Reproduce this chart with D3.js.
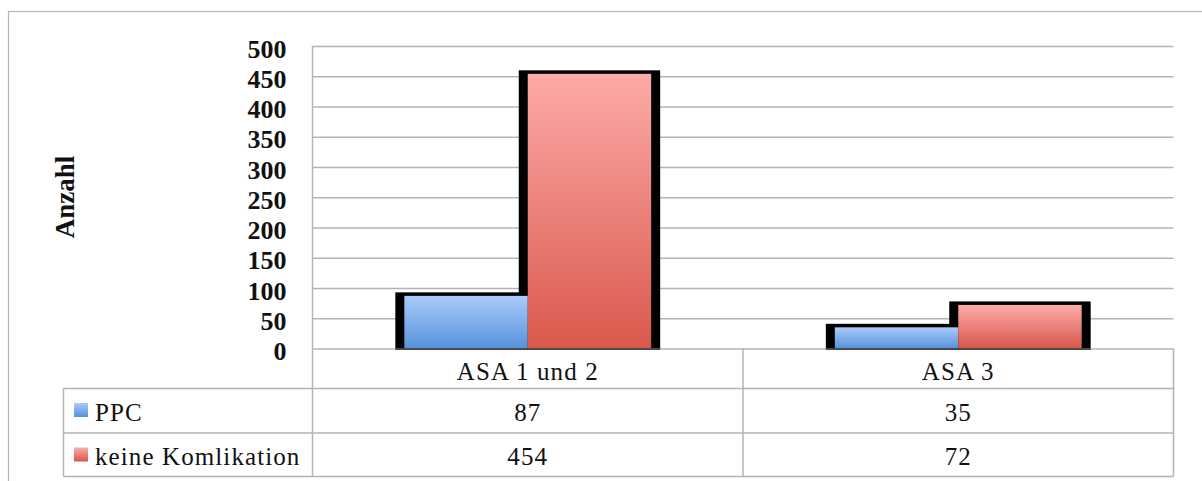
<!DOCTYPE html>
<html>
<head>
<meta charset="utf-8">
<script src="https://cdn.jsdelivr.net/npm/d3@7"></script>
<style>
  html, body { margin: 0; padding: 0; background: #fff; }
  svg { display: block; }
  text { font-family: "Liberation Serif", "Times New Roman", serif; fill: #111; }
  .cell { font-size: 25px; letter-spacing: 1.1px; }
</style>
</head>
<body>
<svg id="chart" width="1202" height="481"></svg>
<script>
// Chart data
const categories = ["ASA 1 und 2", "ASA 3"];
const seriesNames = ["PPC", "keine Komlikation"];
const ppcValues = [87, 35];
const keineValues = [454, 72];
const yTickValues = [0, 50, 100, 150, 200, 250, 300, 350, 400, 450, 500];
const axisTitle = "Anzahl";

const seriesValues = [ppcValues, keineValues];
const seriesGradients = [
  { id: "gradBlue", top: "#aacbfa", bottom: "#5592da" },
  { id: "gradRed", top: "#fdaba8", bottom: "#d9584c" }
];

const svg = d3.select("#chart");
const W = 1202, H = 481;

// Plot geometry
const plotLeft = 312.5, plotRight = 1173.5, plotTop = 46, plotBottom = 348.5;
const legendLeft = 63.5;
const rowBounds = [348.5, 388.5, 433, 476.5]; // header row, series rows
const gridColor = "#b3b3b3";

const defs = svg.append("defs");
seriesGradients.forEach(g => {
  const lg = defs.append("linearGradient")
    .attr("id", g.id).attr("x1", 0).attr("y1", 0).attr("x2", 0).attr("y2", 1);
  lg.append("stop").attr("offset", "0%").attr("stop-color", g.top);
  lg.append("stop").attr("offset", "100%").attr("stop-color", g.bottom);
});

// Outer frame
svg.append("rect")
  .attr("x", 8.5).attr("y", 11.5)
  .attr("width", W).attr("height", H)
  .attr("fill", "none").attr("stroke", "#b5b5b5").attr("stroke-width", 1.2);

// Scales
const y = d3.scaleLinear().domain([0, 500]).range([plotBottom, plotTop]);
const x0 = d3.scaleBand().domain(categories).range([plotLeft, plotRight]).padding(0);
const x1 = d3.scaleBand().domain(seriesNames).range([0, x0.bandwidth()])
  .paddingInner(0).paddingOuter(0.744);

// Gridlines
svg.append("g")
  .attr("transform", `translate(${plotLeft},0)`)
  .call(d3.axisLeft(y).tickValues(yTickValues).tickSize(-(plotRight - plotLeft)).tickFormat(""))
  .call(g => g.select(".domain").remove())
  .call(g => g.selectAll("line").attr("stroke", gridColor).attr("stroke-width", 1.5));

// Tick labels
svg.append("g")
  .attr("transform", `translate(${plotLeft},0)`)
  .call(d3.axisLeft(y).tickValues(yTickValues).tickSize(0).tickPadding(26))
  .call(g => g.select(".domain").remove())
  .call(g => g.selectAll("text")
    .attr("dy", null).attr("y", 11)
    .style("font-family", "'Liberation Serif', serif")
    .style("font-size", "26px").style("font-weight", "bold").attr("fill", "#111"));

// Axis title
svg.append("text")
  .attr("transform", "translate(74,197) rotate(-90)")
  .attr("text-anchor", "middle")
  .style("font-size", "27px").style("font-weight", "bold")
  .text(axisTitle);

// Bars: black backing first, then gradient fills
const barData = [];
categories.forEach((c, ci) => {
  seriesNames.forEach((s, si) => {
    barData.push({ cat: c, series: s, si, value: seriesValues[si][ci] });
  });
});

const barsG = svg.append("g");
barsG.selectAll("rect.back").data(barData).join("rect")
  .attr("class", "back")
  .attr("x", d => x0(d.cat) + x1(d.series) - 9)
  .attr("width", x1.bandwidth() + 18)
  .attr("y", d => y(d.value) - 3.5)
  .attr("height", d => y(0) - y(d.value) + 3.5)
  .attr("fill", "#000");

barsG.selectAll("rect.fill").data(barData).join("rect")
  .attr("class", "fill")
  .attr("x", d => x0(d.cat) + x1(d.series))
  .attr("width", x1.bandwidth())
  .attr("y", d => y(d.value))
  .attr("height", d => y(0) - y(d.value))
  .attr("fill", d => `url(#${seriesGradients[d.si].id})`);

// Dark base under each bar group
categories.forEach(c => {
  svg.append("line")
    .attr("x1", x0(c) + x1(seriesNames[0]) - 9)
    .attr("x2", x0(c) + x1(seriesNames[seriesNames.length - 1]) + x1.bandwidth() + 9)
    .attr("y1", plotBottom + 0.5).attr("y2", plotBottom + 0.5)
    .attr("stroke", "#4a4a4a").attr("stroke-width", 2);
});

// Data table grid
const tableG = svg.append("g").attr("stroke", gridColor).attr("stroke-width", 1.5);
// vertical axis line continuing through table
tableG.append("line").attr("x1", plotLeft).attr("x2", plotLeft).attr("y1", plotTop).attr("y2", rowBounds[3]);
// category column separators
categories.forEach((c, i) => {
  const xr = x0(c) + x0.bandwidth();
  tableG.append("line").attr("x1", xr).attr("x2", xr).attr("y1", rowBounds[0]).attr("y2", rowBounds[3]);
});
// legend column left edge
tableG.append("line").attr("x1", legendLeft).attr("x2", legendLeft).attr("y1", rowBounds[1]).attr("y2", rowBounds[3]);
// row lines
[rowBounds[1], rowBounds[2], rowBounds[3]].forEach(ry => {
  tableG.append("line").attr("x1", legendLeft).attr("x2", plotRight).attr("y1", ry).attr("y2", ry);
});

// Header labels
svg.append("g").selectAll("text").data(categories).join("text")
  .attr("class", "cell")
  .attr("x", d => x0(d) + x0.bandwidth() / 2)
  .attr("y", 380)
  .attr("text-anchor", "middle")
  .text(d => d);

// Series rows: legend key, name, values
const rowBaselines = [421, 465];
seriesNames.forEach((s, si) => {
  const top = rowBounds[si + 1];
  svg.append("rect")
    .attr("x", 74).attr("y", top + 14.5)
    .attr("width", 14).attr("height", 14)
    .attr("fill", `url(#${seriesGradients[si].id})`);
  svg.append("text")
    .attr("class", "cell")
    .attr("x", 95).attr("y", rowBaselines[si])
    .text(s);
  categories.forEach((c, ci) => {
    svg.append("text")
      .attr("class", "cell")
      .attr("x", x0(c) + x0.bandwidth() / 2)
      .attr("y", rowBaselines[si])
      .attr("text-anchor", "middle")
      .text(seriesValues[si][ci]);
  });
});
</script>
</body>
</html>
